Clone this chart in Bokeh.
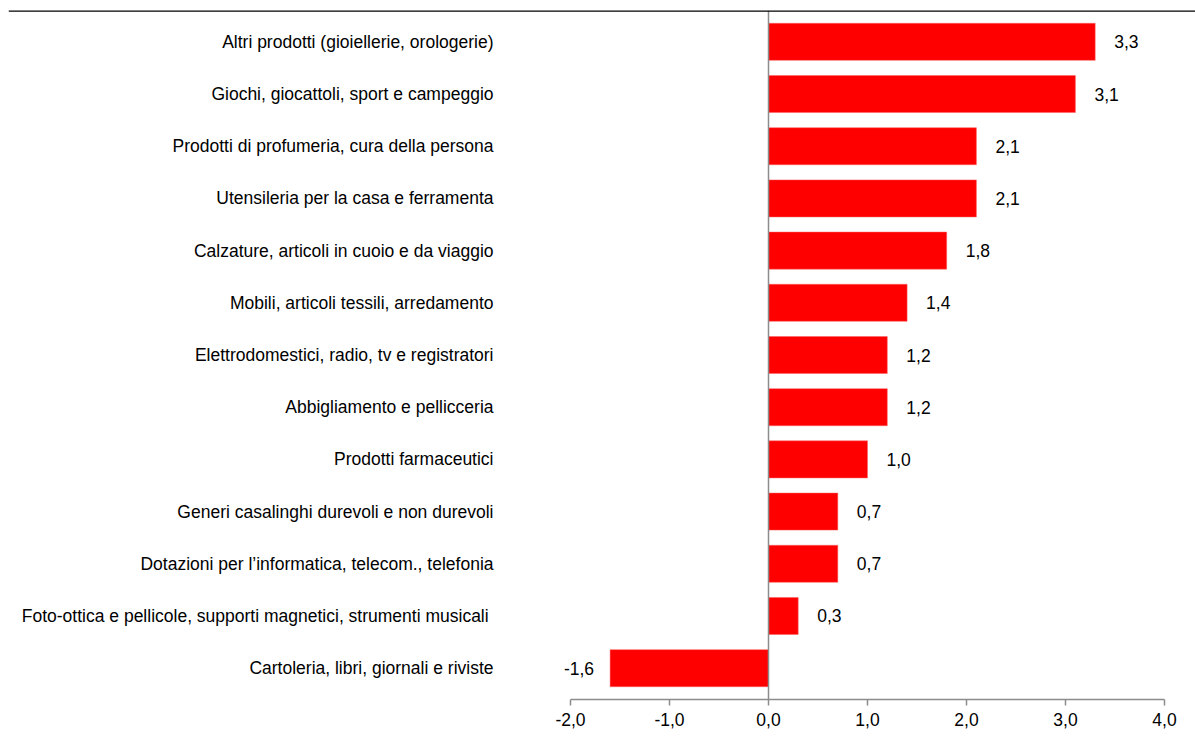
from bokeh.plotting import figure
from bokeh.models import Range1d, Span, FixedTicker, CustomJSTickFormatter, ColumnDataSource
from bokeh.core.properties import value
from bokeh.embed import file_html
from bokeh.resources import INLINE

categories = [
    "Altri prodotti (gioiellerie, orologerie)",
    "Giochi, giocattoli, sport e campeggio",
    "Prodotti di profumeria, cura della persona",
    "Utensileria per la casa e ferramenta",
    "Calzature, articoli in cuoio e da viaggio",
    "Mobili, articoli tessili, arredamento",
    "Elettrodomestici, radio, tv e registratori",
    "Abbigliamento e pellicceria",
    "Prodotti farmaceutici",
    "Generi casalinghi durevoli e non durevoli",
    "Dotazioni per l\u2019informatica, telecom., telefonia",
    "Foto-ottica e pellicole, supporti magnetici, strumenti  musicali",
    "Cartoleria, libri, giornali e riviste",
]
values = [3.3, 3.1, 2.1, 2.1, 1.8, 1.4, 1.2, 1.2, 1.0, 0.7, 0.7, 0.3, -1.6]
x_ticks = [-2, -1, 0, 1, 2, 3, 4]

n = len(categories)
ypos = [n - 1 - i for i in range(n)]
labels = [f"{v:.1f}".replace(".", ",") for v in values]

FONT = "Liberation Sans"
FS = "17.5px"
PX = 99.0          # pixels per unit
W, H = 1195, 736
LEFT = 8           # frame left border
ZERO = 768         # page pixel of x=0

src = ColumnDataSource(dict(
    y=ypos, v=values, lab=labels, cat=categories,
    catx=[(493 - ZERO) / PX] * n,
))

p = figure(width=W, height=H, output_backend="svg", toolbar_location=None,
           x_range=Range1d(-(ZERO - LEFT) / PX, (W - ZERO) / PX),
           y_range=Range1d(-0.6, n - 1 + 0.6),
           y_axis_location=None, min_border_left=LEFT, min_border_right=0,
           min_border_top=10, min_border_bottom=37)
p.outline_line_color = None
p.grid.visible = False
p.background_fill_color = "white"
p.border_fill_color = "white"

p.hbar(y="y", left=0, right="v", height=0.71, source=src,
       fill_color="#FF0000", line_color="#FF6060", line_width=0.5)

zero = Span(location=0, dimension="height", line_color="#8C8C8C", line_width=1.5)
p.add_layout(zero)
top = Span(location=n - 1 + 0.6, dimension="width", line_color="black", line_width=2.5)
p.add_layout(top)

pos_src = ColumnDataSource(dict(
    y=[ypos[i] for i in range(n) if values[i] >= 0],
    v=[values[i] for i in range(n) if values[i] >= 0],
    lab=[labels[i] for i in range(n) if values[i] >= 0],
))
neg_src = ColumnDataSource(dict(
    y=[ypos[i] for i in range(n) if values[i] < 0],
    v=[values[i] for i in range(n) if values[i] < 0],
    lab=[labels[i] for i in range(n) if values[i] < 0],
))
p.text(x="v", y="y", text="lab", source=pos_src, x_offset=19,
       text_align="left", text_baseline="middle", text_font=value(FONT),
       text_font_size=FS, text_color="black")
p.text(x="v", y="y", text="lab", source=neg_src, x_offset=-16,
       text_align="right", text_baseline="middle", text_font=value(FONT),
       text_font_size=FS, text_color="black")
p.text(x="catx", y="y", text="cat", source=src,
       text_align="right", text_baseline="middle", text_font=value(FONT),
       text_font_size=FS, text_color="black")

ax = p.xaxis[0]
ax.bounds = (-2, 4)
ax.ticker = FixedTicker(ticks=x_ticks)
ax.formatter = CustomJSTickFormatter(code="return tick.toFixed(1).replace('.', ',');")
ax.axis_line_color = "#8C8C8C"
ax.axis_line_width = 1.5
ax.major_tick_line_color = "#8C8C8C"
ax.major_tick_line_width = 1.5
ax.major_tick_out = 6
ax.major_tick_in = 0
ax.minor_tick_line_color = None
ax.major_label_text_font = FONT
ax.major_label_text_font_size = FS
ax.major_label_text_color = "black"
ax.major_label_standoff = 7

open("out.html", "w").write(file_html(p, INLINE))
